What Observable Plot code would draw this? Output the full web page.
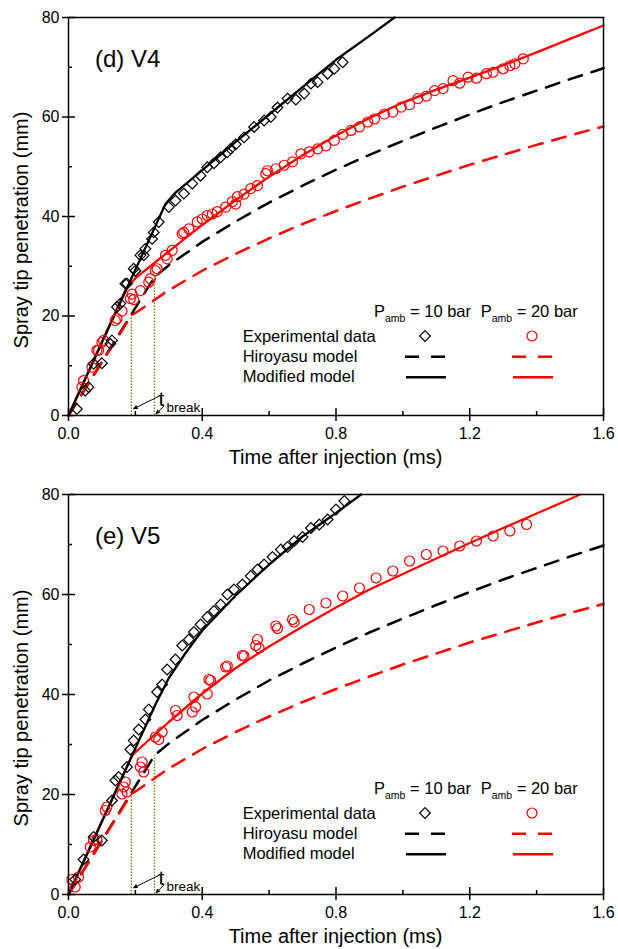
<!DOCTYPE html>
<html><head><meta charset="utf-8">
<script src="https://cdn.jsdelivr.net/npm/d3@7"></script>
<script src="https://cdn.jsdelivr.net/npm/@observablehq/plot@0.6"></script>
<style>
body{margin:0;background:#fff;}
#chart{width:618px;}
svg{display:block;}
</style></head><body><div id="chart"></div>
<script>
// ---------- axes / tick values ----------
const xTicks = [0, 0.4, 0.8, 1.2, 1.6];
const xMinor = [0.2, 0.6, 1.0, 1.4];
const yTicks = [0, 20, 40, 60, 80];
const yMinor = [10, 30, 50, 70];

// ---------- text ----------
const xTitle = "Time after injection (ms)";
const yTitle = "Spray tip penetration (mm)";
const panelLabels = ["(d) V4", "(e) V5"];
const legendHeaders = [["P", "amb", " = 10 bar"], ["P", "amb", " = 20 bar"]];
const legendLabels = ["Experimental data", "Hiroyasu model", "Modified model"];
const breakLabel = ["t", "break"];

// ---------- t_break (ms) and Hiroyasu penetration at t_break (mm): [20 bar, 10 bar] ----------
const tBreak = [0.188, 0.257];
const sBreak = [20.1, 27.8];

// ---------- Hiroyasu model (same in both panels) ----------
const hiroT10 = [0, 0.257, 0.3, 0.4, 0.5, 0.6, 0.7, 0.8, 0.9, 1.0, 1.1, 1.2, 1.3, 1.4, 1.5, 1.6];
const hiroS10 = [0, 27.8, 30.2, 34.9, 39.0, 42.8, 46.2, 49.4, 52.4, 55.2, 57.9, 60.5, 63.0, 65.3, 67.6, 69.8];
const hiroT20 = [0, 0.188, 0.2, 0.3, 0.4, 0.5, 0.6, 0.7, 0.8, 0.9, 1.0, 1.1, 1.2, 1.3, 1.4, 1.5, 1.6];
const hiroS20 = [0, 20.1, 20.6, 25.2, 29.1, 32.5, 35.6, 38.5, 41.1, 43.6, 46.0, 48.2, 50.4, 52.4, 54.4, 56.3, 58.1];

// ---------- V4: modified model ----------
const v4ModT10 = [0, 0.29, 0.32, 0.4, 0.5, 0.6, 0.7, 0.8, 0.9, 0.975];
const v4ModS10 = [0, 42.5, 44.8, 49.3, 55.0, 60.5, 66.0, 71.5, 76.3, 80];
const v4ModT20 = [0, 0.17, 0.2, 0.25, 0.3, 0.4, 0.5, 0.6, 0.7, 0.8, 0.9, 1.0, 1.1, 1.2, 1.3, 1.4, 1.5, 1.6];
const v4ModS20 = [0, 25.2, 27.6, 30.3, 33.0, 38.3, 43.3, 48.0, 52.3, 56.3, 59.8, 62.9, 65.5, 67.9, 70.4, 73.0, 75.7, 78.4];

// ---------- V4: experimental data ----------
const v4ExpT10 = [0.025,0.05,0.06,0.075,0.1,0.125,0.13,0.145,0.155,0.17,0.175,0.195,0.2,0.215,0.225,0.23,0.25,0.255,0.27,0.3,0.32,0.345,0.37,0.395,0.415,0.435,0.455,0.475,0.485,0.5,0.525,0.555,0.585,0.605,0.625,0.655,0.68,0.705,0.725,0.745,0.775,0.795,0.82];
const v4ExpS10 = [1.3,5,5.7,10.4,10.5,14.4,15.1,21.8,22.5,26.5,26.5,29.5,29.1,32.2,32.2,33.5,35.5,36.8,38.9,41.9,43.2,44.6,46.6,48.2,49.9,50.7,51.9,52.9,53.6,54.5,55.9,58,59.3,60,61.9,63.7,63.5,64.7,66.7,67,68.7,69.7,71];
const v4ExpT20 = [0.04,0.045,0.07,0.085,0.09,0.1,0.105,0.14,0.145,0.16,0.185,0.19,0.195,0.215,0.24,0.245,0.26,0.265,0.29,0.295,0.31,0.34,0.345,0.36,0.385,0.4,0.415,0.43,0.445,0.47,0.49,0.5,0.505,0.525,0.545,0.565,0.59,0.595,0.62,0.645,0.67,0.695,0.72,0.745,0.77,0.795,0.82,0.845,0.87,0.895,0.915,0.945,0.97,0.995,1.02,1.045,1.07,1.095,1.12,1.15,1.17,1.195,1.22,1.25,1.27,1.3,1.32,1.335,1.36];
const v4ExpS20 = [5.7,7,9.7,13.1,13.1,14.7,15.1,19.1,19.5,21,23.5,24.4,23.3,25.1,26.8,27.5,29.1,29.5,32.2,31.5,33.2,36.5,36.8,37.5,38.9,39.5,40.2,40.5,41,41.9,43,42.5,44,44.5,45.6,46.2,48.6,49.2,49.6,50.3,51,52.6,53,53.6,54.2,55.3,56.5,57.3,58,59,59.6,60.6,61,62,62.5,63.7,64.2,65.3,65.7,67.3,66.8,68,67.8,68.7,69,69.7,70.3,70.7,71.7];

// ---------- V5: modified model ----------
const v5ModT10 = [0, 0.26, 0.3, 0.35, 0.4, 0.5, 0.6, 0.7, 0.8, 0.875];
const v5ModS10 = [0, 38.0, 43.3, 48.3, 52.8, 59.8, 66.0, 71.6, 76.3, 80];
const v5ModT20 = [0, 0.19, 0.25, 0.3, 0.4, 0.5, 0.6, 0.7, 0.8, 0.9, 1.0, 1.1, 1.2, 1.3, 1.4, 1.5, 1.53];
const v5ModS20 = [0, 27.8, 31.5, 34.5, 40.2, 45.3, 49.6, 53.6, 57.4, 61.0, 64.1, 67.2, 70.3, 73.3, 76.2, 79.1, 80];

// ---------- V5: experimental data ----------
const v5ExpT10 = [0.02,0.045,0.075,0.1,0.13,0.14,0.15,0.175,0.185,0.195,0.21,0.23,0.24,0.265,0.28,0.295,0.32,0.34,0.36,0.375,0.395,0.415,0.435,0.455,0.475,0.495,0.52,0.545,0.565,0.585,0.61,0.635,0.655,0.675,0.7,0.725,0.75,0.775,0.8,0.825];
const v5ExpS10 = [3,7,11.5,10.8,18.8,22.8,23.5,25.5,29,30.8,33,35,37,40.5,42,45,47,49.8,51,52.5,54,55.5,56.7,58,60,61,62,63.7,65,66,67.5,69,69.5,70.7,71.5,73.3,74,75,77,78.7];
const v5ExpT20 = [0.01,0.02,0.03,0.065,0.075,0.085,0.11,0.115,0.16,0.165,0.17,0.175,0.215,0.22,0.225,0.26,0.27,0.28,0.32,0.325,0.37,0.375,0.38,0.415,0.42,0.425,0.47,0.475,0.52,0.525,0.56,0.565,0.57,0.62,0.625,0.67,0.675,0.72,0.77,0.82,0.87,0.92,0.97,1.02,1.07,1.12,1.17,1.22,1.27,1.32,1.37];
const v5ExpS20 = [3,1.5,3.5,9.5,10.8,11,16.8,17.5,20.1,21.5,22.5,20.5,25.5,26.5,24.5,31.5,31,32.5,36.8,35.8,36.5,39.5,37.5,40.1,43,42.8,45.5,45.7,47.8,47.7,49.8,51,49.3,53.7,53.2,55,54.5,57,58.3,59.7,61.3,63.3,64.7,66.7,68,68.7,69.7,70.7,71.7,72.7,74];

// ---------- helpers ----------
const zip = (T, S) => T.map((t, i) => ({t, s: S[i]}));
const FONT = "'Liberation Sans', Arial, Helvetica, sans-serif";
const WIDTH = 618, ML = 68, MR = 15;
const RED = "#ff0000";

function panel(cfg) {
  const {height, marginTop, marginBottom, label, exp10, exp20, mod10, mod20} = cfg;
  const H = height - marginTop - marginBottom;
  const W = WIDTH - ML - MR;
  const hiro10 = zip(hiroT10, hiroS10), hiro20 = zip(hiroT20, hiroS20);
  const breaks = zip(tBreak, sBreak);
  const plot = Plot.plot({
    width: WIDTH, height, marginTop, marginBottom, marginLeft: ML, marginRight: MR,
    x: {domain: [0, 1.6]},
    y: {domain: [0, 80]},
    style: {fontFamily: FONT, fontSize: "16px", color: "black", background: "white", overflow: "visible"},
    marks: [
      Plot.axisX({ticks: xTicks, tickSize: 0, tickPadding: 12, tickFormat: d3.format(".1f"), label: null, fontSize: 16}),
      Plot.axisY({ticks: yTicks, tickSize: 0, tickPadding: 9, tickFormat: d3.format("d"), label: null, fontSize: 16}),
      Plot.ruleX(xTicks, {x: d => d, insetTop: H - 7, insetBottom: -6, stroke: "black", strokeWidth: 1.5}),
      Plot.ruleX(xMinor, {x: d => d, insetTop: H - 4, stroke: "black", strokeWidth: 1.5}),
      Plot.ruleY(yTicks, {y: d => d, insetRight: W - 7, insetLeft: -6, stroke: "black", strokeWidth: 1.5}),
      Plot.ruleY(yMinor, {y: d => d, insetRight: W - 4, stroke: "black", strokeWidth: 1.5}),
      Plot.ruleX(breaks, {x: "t", y1: 0, y2: "s", stroke: "#7d7d00", strokeWidth: 1.3, strokeDasharray: "1.5,1.5"}),
      Plot.line(hiro10, {x: "t", y: "s", stroke: "black", strokeWidth: 2.5, strokeDasharray: "14,10"}),
      Plot.line(hiro20, {x: "t", y: "s", stroke: RED, strokeWidth: 2.5, strokeDasharray: "14,10"}),
      Plot.line(mod20, {x: "t", y: "s", stroke: RED, strokeWidth: 2.3}),
      Plot.line(mod10, {x: "t", y: "s", stroke: "black", strokeWidth: 2.3}),
      Plot.dot(exp20, {x: "t", y: "s", r: 5, stroke: RED, strokeWidth: 1.2, fill: "none"}),
      Plot.dot(exp10, {x: "t", y: "s", symbol: "diamond2", r: 4.8, stroke: "black", strokeWidth: 1.2, fill: "none"}),
      Plot.frame({stroke: "black", strokeWidth: 1.5})
    ]
  });

  const sx = plot.scale("x"), sy = plot.scale("y");
  const svg = d3.select(plot);
  const g = svg.append("g").attr("font-family", FONT).attr("fill", "black").attr("text-anchor", "start");

  // panel label
  g.append("text").attr("x", ML + 27).attr("y", marginTop + 50).attr("font-size", 24).text(label);

  // axis titles
  g.append("text").attr("x", ML + W / 2).attr("y", marginTop + H + 49)
    .attr("text-anchor", "middle").attr("font-size", 20).text(xTitle);
  g.append("text").attr("transform", `translate(28,${marginTop + H / 2 + 14}) rotate(-90)`)
    .attr("text-anchor", "middle").attr("font-size", 20).text(yTitle);

  // legend
  const ox = ML, oy = marginTop;
  const lg = g.append("g").attr("font-size", 16.5);
  const hx = [306, 412.7];
  legendHeaders.forEach((h, i) => {
    const t = lg.append("text").attr("x", ox + hx[i]).attr("y", oy + 299.7);
    t.append("tspan").text(h[0]);
    t.append("tspan").attr("font-size", 10.5).attr("dy", 5).text(h[1]);
    t.append("tspan").attr("dy", -5).text(h[2]);
  });
  legendLabels.forEach((txt, i) => {
    lg.append("text").attr("x", ox + 174.7).attr("y", oy + 324.7 + i * 20.3).text(txt);
  });
  const cx = [357, 464];
  lg.append("path").attr("transform", `translate(${ox + cx[0]},${oy + 319})`)
    .attr("d", d3.symbol(d3.symbolDiamond2, Math.PI * 4.8 * 4.8)())
    .attr("fill", "none").attr("stroke", "black").attr("stroke-width", 1.2);
  lg.append("circle").attr("cx", ox + cx[1]).attr("cy", oy + 319).attr("r", 5)
    .attr("fill", "none").attr("stroke", RED).attr("stroke-width", 1.2);
  [["black", 0], [RED, 1]].forEach(([c, i]) => {
    lg.append("line").attr("x1", ox + cx[i] - 20).attr("x2", ox + cx[i] + 20)
      .attr("y1", oy + 339.7).attr("y2", oy + 339.7)
      .attr("stroke", c).attr("stroke-width", 2.5).attr("stroke-dasharray", "14,12");
    lg.append("line").attr("x1", ox + cx[i] - 19).attr("x2", ox + cx[i] + 21)
      .attr("y1", oy + 360.3).attr("y2", oy + 360.3)
      .attr("stroke", c).attr("stroke-width", 2.5);
  });

  // t_break annotation
  const xb20 = sx.apply(tBreak[0]), xb10 = sx.apply(tBreak[1]), y0 = sy.apply(0);
  g.append("text").attr("x", xb10 + 4.5).attr("y", y0 - 9).attr("font-size", 21).text(breakLabel[0]);
  g.append("text").attr("x", xb10 + 12.5).attr("y", y0 - 3.5).attr("font-size", 13.5).text(breakLabel[1]);
  function arrow(x1, y1, x2, y2) {
    const a = Math.atan2(y2 - y1, x2 - x1), L = 5, w = 2.2;
    const bx = x2 - L * Math.cos(a), by = y2 - L * Math.sin(a);
    g.append("line").attr("x1", x1).attr("y1", y1).attr("x2", bx).attr("y2", by)
      .attr("stroke", "black").attr("stroke-width", 1);
    const px = -Math.sin(a) * w, py = Math.cos(a) * w;
    g.append("path").attr("d", `M${x2},${y2}L${bx + px},${by + py}L${bx - px},${by - py}Z`).attr("fill", "black");
  }
  arrow(xb10 + 5.5, y0 - 19, xb20 + 1.8, y0 - 5.7);
  arrow(xb10 + 10, y0 - 9, xb10 + 1.4, y0 - 0.5);

  return plot;
}

const chart = document.getElementById("chart");
chart.append(panel({
  height: 475, marginTop: 17, marginBottom: 60, label: panelLabels[0],
  exp10: zip(v4ExpT10, v4ExpS10), exp20: zip(v4ExpT20, v4ExpS20),
  mod10: zip(v4ModT10, v4ModS10), mod20: zip(v4ModT20, v4ModS20)
}));
chart.append(panel({
  height: 474, marginTop: 19, marginBottom: 55, label: panelLabels[1],
  exp10: zip(v5ExpT10, v5ExpS10), exp20: zip(v5ExpT20, v5ExpS20),
  mod10: zip(v5ModT10, v5ModS10), mod20: zip(v5ModT20, v5ModS20)
}));
</script></body></html>
